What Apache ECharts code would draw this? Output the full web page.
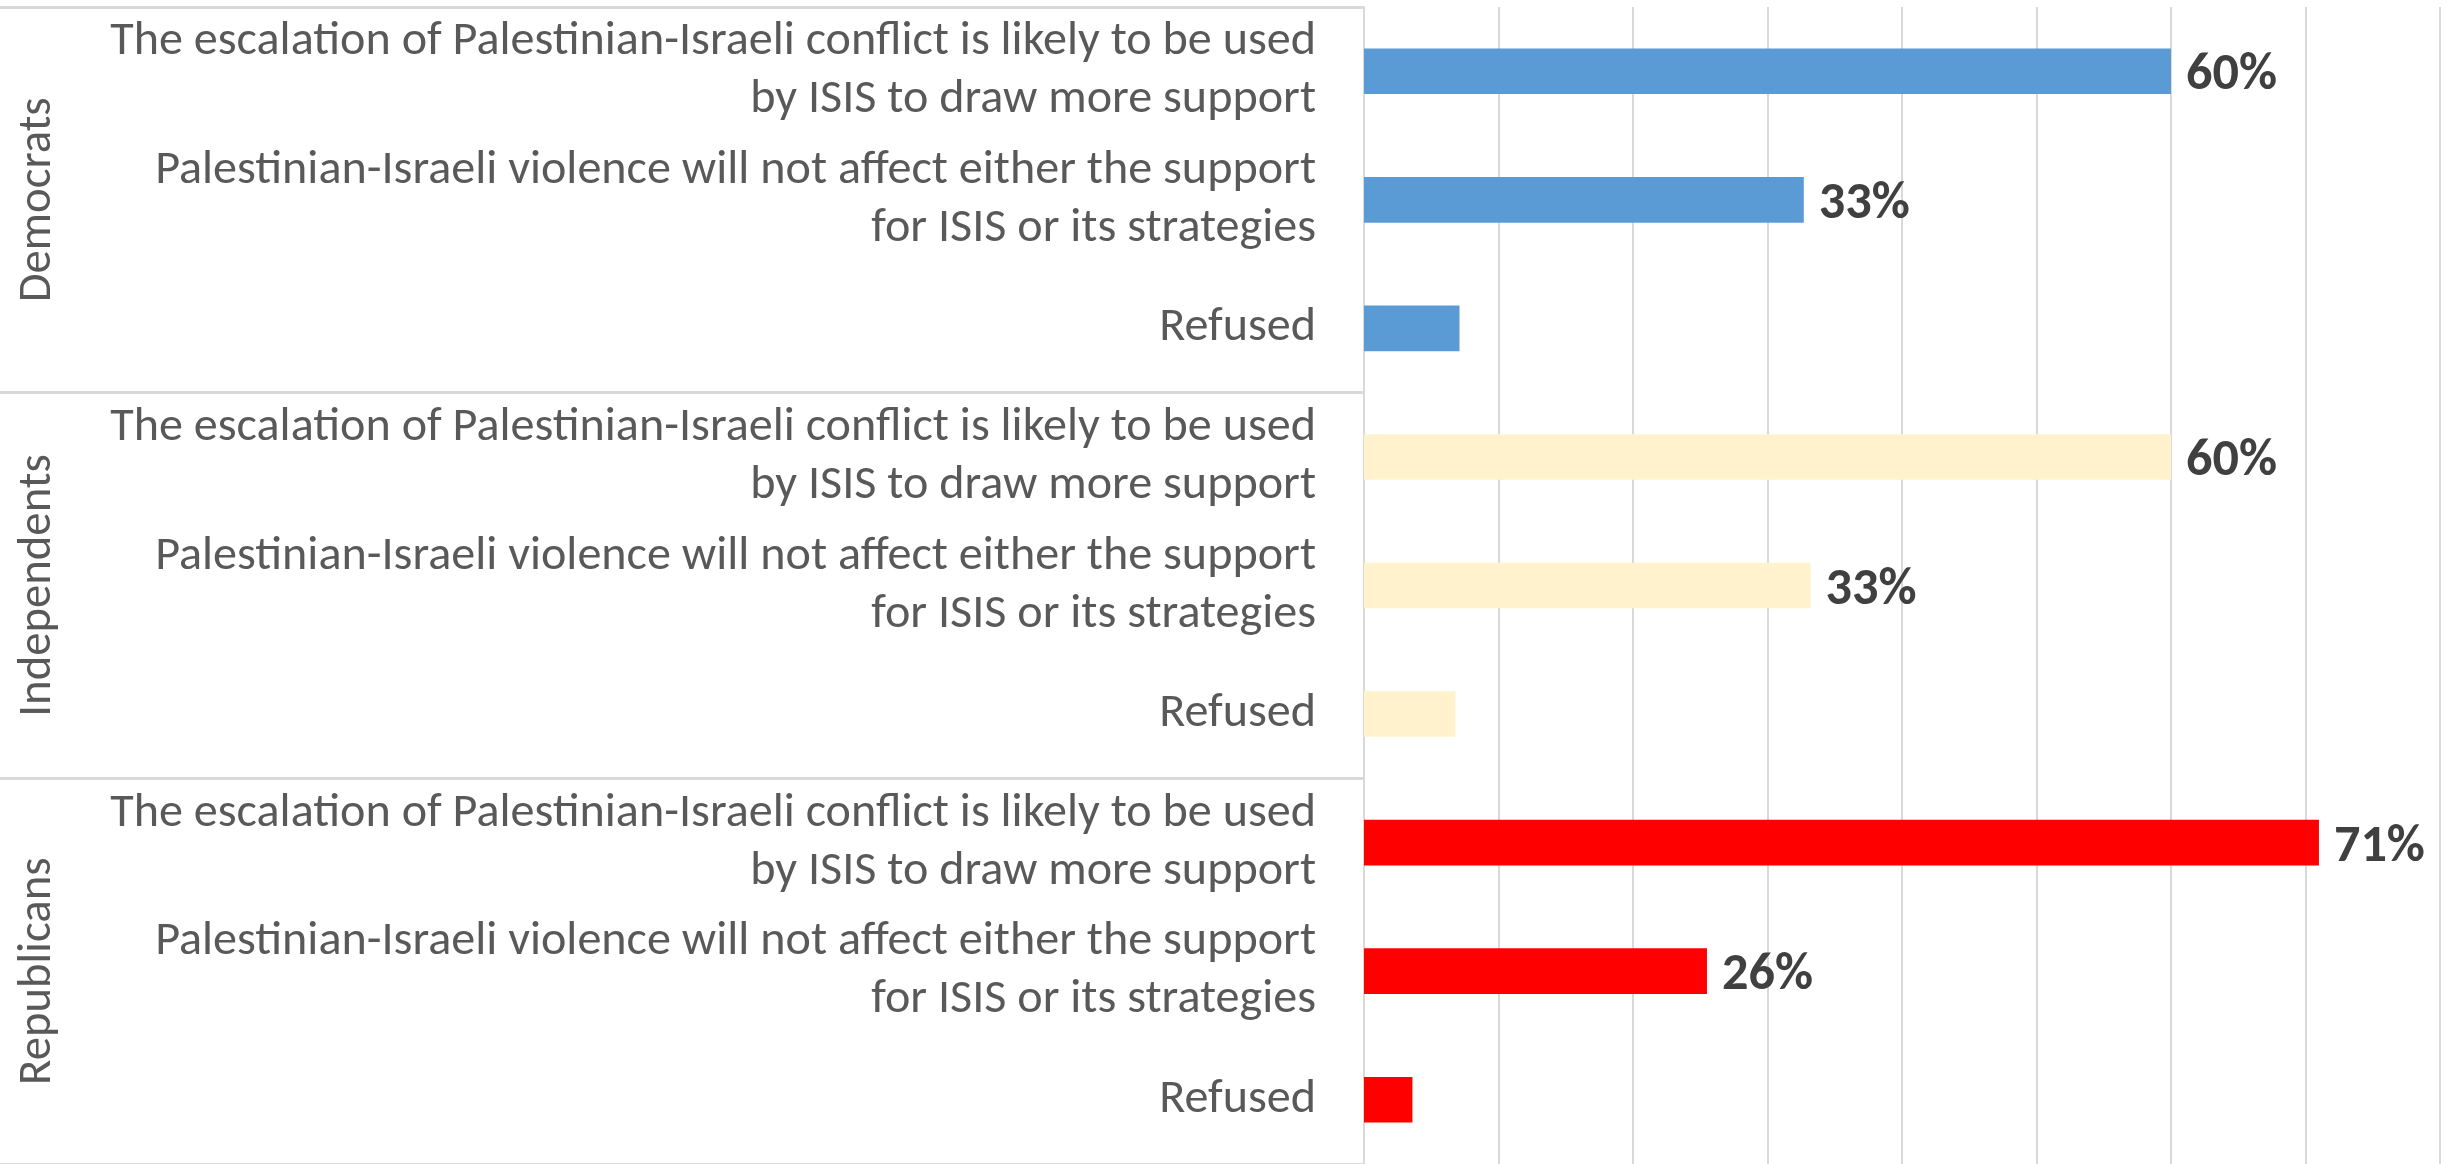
<!DOCTYPE html>
<html>
<head>
<meta charset="utf-8">
<script src="https://cdn.jsdelivr.net/npm/echarts@6/dist/echarts.min.js"></script>
<style>
html,body{margin:0;padding:0;background:#fff;}
#chart{width:2451px;height:1164px;}
</style>
</head>
<body>
<div id="chart"></div>
<script>
// ---- data ----
const categories = [
  'The escalation of Palestinian-Israeli conflict is likely to be used\nby ISIS to draw more support',
  'Palestinian-Israeli violence will not affect either the support\nfor ISIS or its strategies',
  'Refused'
];
const groups = ['Democrats', 'Independents', 'Republicans'];
const democrats = [60, 32.7, 7.1];
const independents = [60, 33.2, 6.8];
const republicans = [71, 25.5, 3.6];
const xMin = 0, xMax = 80, xInterval = 10;
const labelledItems = [true, true, false];

// ---- style ----
const groupColors = ['#5B9BD5', '#FFF2CC', '#FF0000'];
const FONT = 'Carlito, Calibri, Lato, "Open Sans", sans-serif';

function fitSize(text, targetWidth, weight) {
  const c = document.createElement('canvas').getContext('2d');
  c.font = (weight || 'normal') + ' 100px ' + FONT;
  const w = c.measureText(text).width;
  return 100 * targetWidth / w;
}
const catFont = fitSize('The escalation of Palestinian-Israeli conflict is likely to be used', 1206);
const groupFont = fitSize('Democrats', 205);
const valueFont = fitSize('60%', 91, 'bold');

const allSeries = [democrats, independents, republicans];
const yData = [];
const barData = [];
groups.forEach((g, gi) => {
  categories.forEach((c, ci) => {
    yData.push(c);
    barData.push({
      value: allSeries[gi][ci],
      itemStyle: { color: groupColors[gi] },
      label: { show: labelledItems[ci] }
    });
  });
});

const gridLeft = 1364;
const chart = echarts.init(document.getElementById('chart'));
chart.setOption({
  animation: false,
  grid: { left: gridLeft, right: 11, top: 7, bottom: -3, containLabel: false },
  xAxis: {
    type: 'value', min: xMin, max: xMax, interval: xInterval,
    axisLabel: { show: false }, axisTick: { show: false }, axisLine: { show: false },
    splitLine: { show: true, lineStyle: { color: '#D9D9D9', width: 2 } }
  },
  yAxis: [
    {
      type: 'category', data: yData, inverse: true,
      axisLine: { show: true, lineStyle: { color: '#D9D9D9', width: 2 } },
      axisTick: { show: false },
      axisLabel: {
        color: '#595959', fontFamily: FONT, fontSize: catFont,
        lineHeight: 58, margin: 48, interval: 0
      }
    },
    {
      type: 'category', data: groups, inverse: true, position: 'left',
      axisLine: { show: false },
      axisTick: { show: true, length: gridLeft, lineStyle: { color: '#D9D9D9', width: 3 } },
      axisLabel: {
        rotate: 90, color: '#595959', fontFamily: FONT, fontSize: groupFont,
        margin: gridLeft - 62, interval: 0
      }
    }
  ],
  series: [{
    type: 'bar', yAxisIndex: 0, data: barData, barWidth: '35.5%',
    label: {
      position: 'right', distance: 15, offset: [0, 5], color: '#404040', fontWeight: 'bold',
      fontFamily: FONT, fontSize: valueFont,
      formatter: p => Math.round(p.value) + '%'
    }
  }]
});
</script>
</body>
</html>
